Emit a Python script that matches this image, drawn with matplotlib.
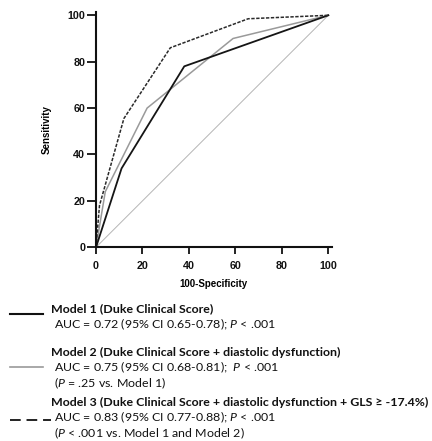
import matplotlib
matplotlib.use("Agg")
import matplotlib.pyplot as plt
from matplotlib.lines import Line2D

plt.rcParams['font.family'] = ['Liberation Sans', 'DejaVu Sans']
plt.rcParams['mathtext.fontset'] = 'custom'
plt.rcParams['mathtext.rm'] = 'Lato'
plt.rcParams['mathtext.it'] = 'Lato:italic'

# ROC curves: 100-specificity (x) vs sensitivity (y), in percent
model1_x = [0, 11, 38, 100]
model1_y = [0, 34, 78, 100]
model2_x = [0, 4, 22, 59, 100]
model2_y = [0, 24, 60, 90, 100]
model3_x = [0, 1.5, 12, 32, 65.5, 100]
model3_y = [0, 18, 55.5, 86, 98.5, 100]
ref_x = [0, 100]
ref_y = [0, 100]

ticks = [0, 20, 40, 60, 80, 100]

legend_titles = [
    "Model 1 (Duke Clinical Score)",
    "Model 2 (Duke Clinical Score + diastolic dysfunction)",
    "Model 3 (Duke Clinical Score + diastolic dysfunction + GLS \u2265 -17.4%)",
]
legend_details = [
    ["AUC = 0.72 (95% CI 0.65-0.78); $P$ < .001"],
    ["AUC = 0.75 (95% CI 0.68-0.81);  $P$ < .001", "($P$ = .25 vs. Model 1)"],
    ["AUC = 0.83 (95% CI 0.77-0.88); $P$ < .001", "($P$ < .001 vs. Model 1 and Model 2)"],
]

W, H = 432, 441
fig = plt.figure(figsize=(W / 100, H / 100), dpi=100)
ax = fig.add_axes([96 / W, 1 - 247.3 / H, 235.8 / W, 235.5 / H])

ax.plot(ref_x, ref_y, color='#b5b5b5', lw=0.7)
ax.plot(model2_x, model2_y, color='#9a9a9a', lw=1.1)
ax.plot(model1_x, model1_y, color='#151515', lw=1.3)
ax.plot(model3_x, model3_y, color='#2a2a2a', lw=1.1, dashes=(2.2, 1.0))

ax.set_xlim(0, 101.5)
ax.set_ylim(0, 101.5)
ax.set_xticks(ticks)
ax.set_yticks(ticks)
for s in ['top', 'right']:
    ax.spines[s].set_visible(False)
for s in ['left', 'bottom']:
    ax.spines[s].set_linewidth(1.5)
    ax.spines[s].set_color('#111111')
ax.tick_params(axis='both', direction='out', width=1.3, colors='#111111',
               labelsize=7.7, pad=2.5)
ax.tick_params(axis='y', length=6.5, pad=1.2)
ax.tick_params(axis='x', length=5, pad=4.6)
for lab in ax.get_xticklabels() + ax.get_yticklabels():
    lab.set_fontweight('bold')

ax.set_xlabel("100-Specificity", fontsize=7, fontweight='bold', labelpad=6.3)
ax.set_ylabel("Sensitivity", fontsize=7, fontweight='bold', labelpad=11)

# Legend block drawn in figure pixels
def fx(px):
    return px / W

def fy(py):
    return 1 - py / H

txt_font = ['Lato', 'DejaVu Sans']
title_y = [309, 352.3, 402.3]
line_y = [314, 367.3, 420]
step = 15.3
styles = [
    dict(color='#111111', lw=1.5),
    dict(color='#9a9a9a', lw=1.2),
    dict(color='#222222', lw=1.4, dashes=(5.5, 3.0)),
]
for i in range(3):
    x0, x1 = (10, 43) if i < 2 else (10, 51)
    fig.add_artist(Line2D([fx(x0), fx(x1)], [fy(line_y[i]), fy(line_y[i])],
                          transform=fig.transFigure, **styles[i]))
    fig.text(fx(51), fy(title_y[i]), legend_titles[i], fontsize=8.9,
             fontweight='bold', family=txt_font, va='center', ha='left',
             color='#111111')
    for j, d in enumerate(legend_details[i]):
        fig.text(fx(54), fy(title_y[i] + step * (j + 1)), d, fontsize=8.9,
                 family=txt_font, va='center', ha='left', color='#111111')

fig.savefig("out.png", dpi=100)
